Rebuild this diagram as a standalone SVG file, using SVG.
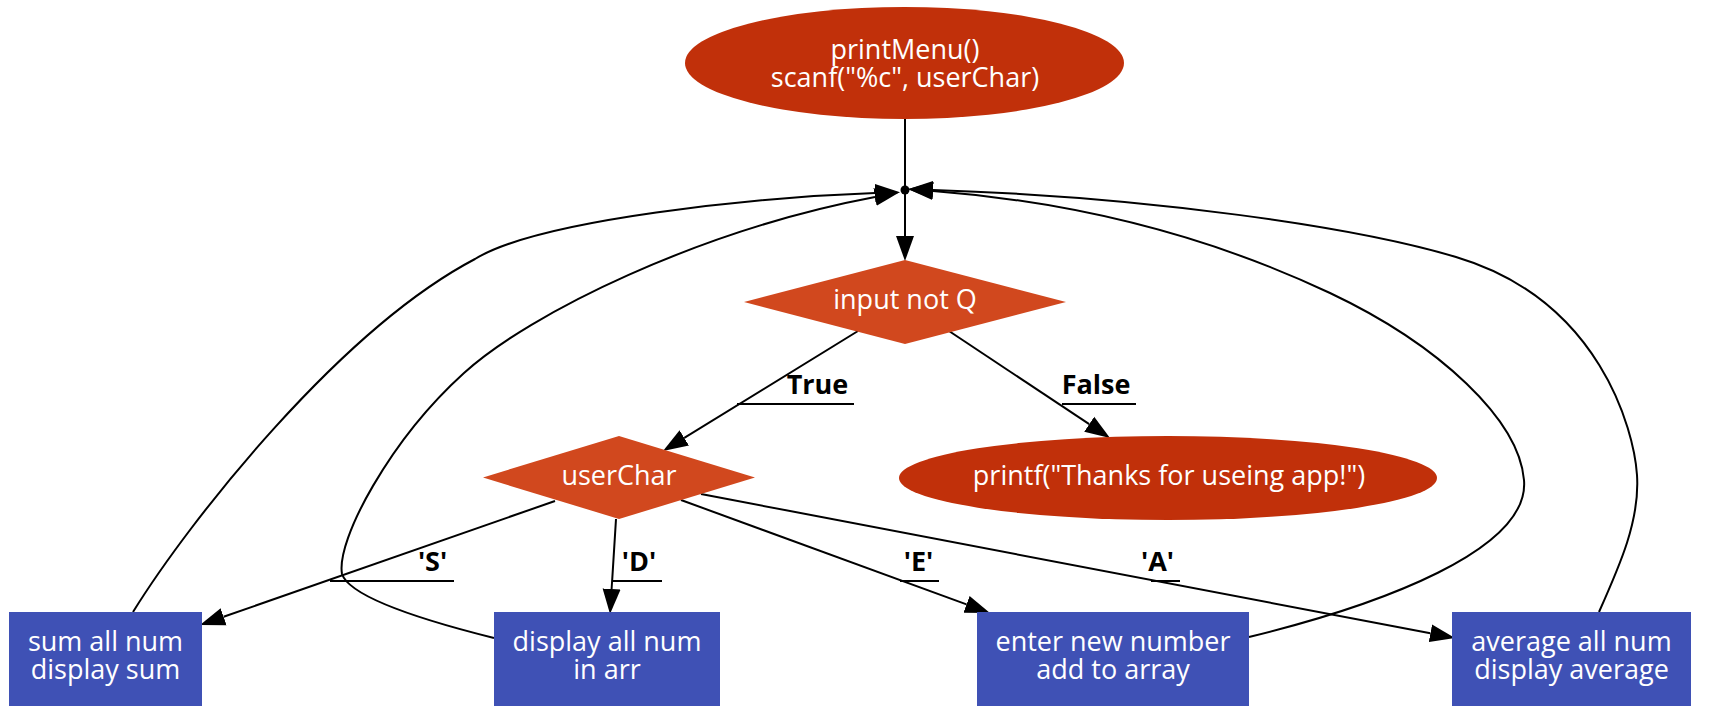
<svg xmlns="http://www.w3.org/2000/svg" width="1714" height="728" viewBox="0 0 1714 728">
<style>
.ell{fill:#C1300A}
.dia{fill:#D1481E}
.box{fill:#3F51B5}
.t{font-family:"Open Sans","Noto Sans","Liberation Sans",sans-serif;font-size:27px;fill:#ffffff;text-anchor:middle}
.lb{font-family:"Open Sans","Noto Sans","Liberation Sans",sans-serif;font-size:27px;font-weight:bold;fill:#000000;text-anchor:middle}
.e{fill:none;stroke:#000;stroke-width:2}
.ul{stroke:#000;stroke-width:2}
</style>
<defs>
<marker id="ah" markerUnits="userSpaceOnUse" markerWidth="26" markerHeight="20" refX="0" refY="9" orient="auto" viewBox="0 0 26 18">
<path d="M0,0 L25,9 L0,18 z" fill="#000"/>
</marker>
</defs>
<g id="connectors">
<path class="e" d="M905,119 L905,190"/>
<circle cx="905" cy="190" r="4.5" fill="#000"/>
<path class="e" d="M905,190 L905,236" marker-end="url(#ah)"/>
<path class="e" d="M858,331 L684.3,437.9" marker-end="url(#ah)"/>
<path class="e" d="M949,331 L1089.2,424.2" marker-end="url(#ah)"/>
<path class="e" d="M555,501 L223.6,616.8" marker-end="url(#ah)"/>
<path class="e" d="M616,519 L611.6,589" marker-end="url(#ah)"/>
<path class="e" d="M681,500 L966.5,604.4" marker-end="url(#ah)"/>
<path class="e" d="M701,494 L1430.4,633.3" marker-end="url(#ah)"/>
<path class="e" d="M133,612 C190,520 340,330 475,259 C540,219 760,197 875,193" marker-end="url(#ah)"/>
<path class="e" d="M494,638 C430,622 350,598 342,574 C336,540 390,440 464,373 C530,313 700,230 875,197" marker-end="url(#ah)"/>
<path class="e" d="M1249,637 C1380,605 1530,550 1524,480 C1519,420 1440,345 1330,293 C1190,227 1050,200 933,191" marker-end="url(#ah)"/>
<path class="e" d="M1599,612 C1620,565 1640,520 1637,475 C1634,430 1600,300 1456,257 C1356,227 1150,197 933,190" marker-end="url(#ah)"/>
<text class="lb" x="817.5" y="394">True</text>
<line class="ul" x1="737" y1="404" x2="854" y2="404"/>
<text class="lb" x="1096" y="394">False</text>
<line class="ul" x1="1062" y1="404" x2="1136" y2="404"/>
<text class="lb" x="432.5" y="571">'S'</text>
<line class="ul" x1="330" y1="581" x2="454" y2="581"/>
<text class="lb" x="639" y="571">'D'</text>
<line class="ul" x1="613" y1="581" x2="662" y2="581"/>
<text class="lb" x="918.5" y="571">'E'</text>
<line class="ul" x1="900" y1="581" x2="939" y2="581"/>
<text class="lb" x="1157.5" y="571">'A'</text>
<line class="ul" x1="1151" y1="581" x2="1180" y2="581"/>
</g>
<g id="start">
<ellipse class="ell" cx="904.5" cy="63" rx="219.5" ry="56"/>
<text class="t" x="905" y="59">printMenu()</text>
<text class="t" x="905" y="87">scanf("%c", userChar)</text>
</g>
<g id="inputNotQ">
<polygon class="dia" points="744,302 905,260 1066,302 905,344"/>
<text class="t" x="905" y="309">input not Q</text>
</g>
<g id="thanks">
<ellipse class="ell" cx="1168" cy="478" rx="269" ry="42"/>
<text class="t" x="1169" y="485">printf("Thanks for useing app!")</text>
</g>
<g id="userChar">
<polygon class="dia" points="483,477.5 619,436 755,477.5 619,519"/>
<text class="t" x="619" y="485">userChar</text>
</g>
<g id="sum">
<rect class="box" x="9" y="612" width="193" height="94"/>
<text class="t" x="105.5" y="651">sum all num</text>
<text class="t" x="105.5" y="679">display sum</text>
</g>
<g id="display">
<rect class="box" x="494" y="612" width="226" height="94"/>
<text class="t" x="607" y="651">display all num</text>
<text class="t" x="607" y="679">in arr</text>
</g>
<g id="enter">
<rect class="box" x="977" y="612" width="272" height="94"/>
<text class="t" x="1113" y="651">enter new number</text>
<text class="t" x="1113" y="679">add to array</text>
</g>
<g id="average">
<rect class="box" x="1452" y="612" width="239" height="94"/>
<text class="t" x="1571.5" y="651">average all num</text>
<text class="t" x="1571.5" y="679">display average</text>
</g>
</svg>
